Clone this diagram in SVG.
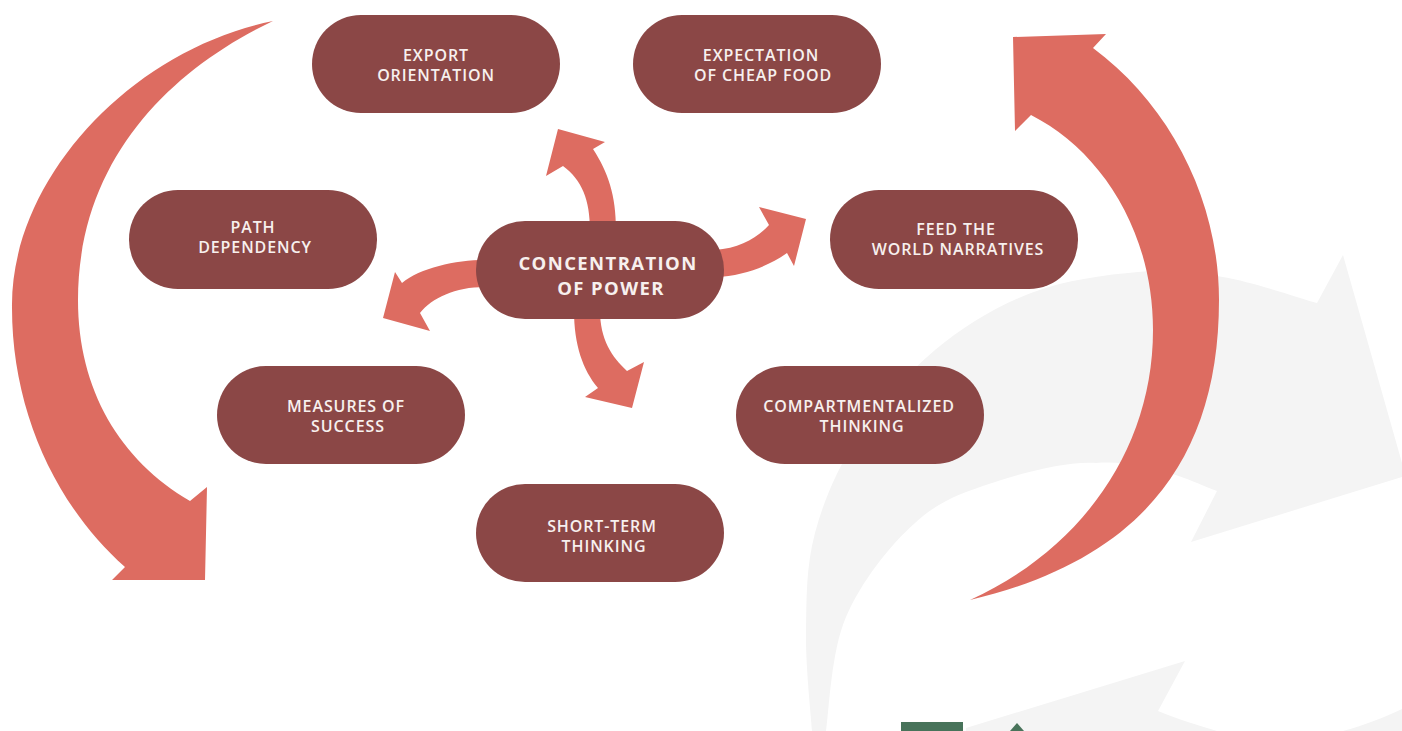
<svg xmlns="http://www.w3.org/2000/svg" width="1402" height="731" viewBox="0 0 1402 731">
<style>
.pill{fill:#8B4746}
.arrow{fill:#DD6C61}
.bg{fill:#F4F4F4}
.green{fill:#48735A}
.t{font-family:"Open Sans","Liberation Sans",sans-serif;font-weight:600;font-size:16px;fill:#F7F0EE;text-anchor:middle;letter-spacing:0.9px}
.tc{font-family:"Open Sans","Liberation Sans",sans-serif;font-weight:700;font-size:18.5px;fill:#F7F0EE;text-anchor:middle;letter-spacing:1.4px}
</style>
<rect width="1402" height="731" fill="#FFFFFF"/>
<g id="background">
<path class="bg" d="M812,731 C811,714.7 805.5,666 806,633 C806.5,600 806,566 815,533 C823.7,500 838,467.5 858,437 C878,406.5 906,374 935,350 C964,326 997,306 1031,293 C1065,280 1106,274.7 1138,272 C1170,269 1193,272 1223,277 C1253,282 1301,298.7 1317,303 L1343,255 L1402,463 L1402,477 L1191,542 L1217,491 C1208,488 1185,476.7 1165,472 C1145,467 1125,461 1096,463 C1067,461 1022,473 992,483 C962,493 939,500.7 915,523 C890,545 861,582 846,617 C831,651 829,712 826,731 Z"/>
<path class="bg" d="M966,731 L966,728 L1185,661 L1158,711 C1180,720 1200,726 1217,731 Z"/>
<path class="bg" d="M1343,731 C1365,725 1385,717 1402,709 L1402,731 Z"/>
<rect class="green" x="901" y="722" width="62" height="9"/>
<path class="green" d="M1017,723 L1024,731 L1010,731 Z"/>
</g>
<g id="connectors">
<path id="loop-left" class="arrow" d="M273,21 C130,50 10,180 12,308 C12,410 55,505 125,567 L112,580 L205,580 L207,487 L190,501 C120,460 78,390 78,300 C78,160 170,70 273,21 Z"/>
<path id="loop-right" class="arrow" d="M970,600 C1080,550 1153,450 1153,330 C1153,230 1100,150 1031,115 L1015,131 L1013,37 L1106,34 L1093,48 C1170,105 1219,200 1219,300 C1219,460 1140,560 970,600 Z"/>
<path id="arrow-up" class="arrow" d="M590,230 C590,200 582,180 563,166 L546,176 L558,129 L605,142 L593,149 C608,172 616,195 616,230 Z"/>
<path id="arrow-right" class="arrow" d="M715,250 C740,248 757,238 769,225 L759,207 L806,219 L794,266 L787,253 C770,265 745,276 715,277 Z"/>
<path id="arrow-left" class="arrow" d="M485,260 C455,260 420,268 402,283 L395,272 L383,318 L430,331 L420,313 C432,298 455,287 485,287 Z"/>
<path id="arrow-down" class="arrow" d="M574,310 C574,345 583,370 598,388 L585,397 L632,408 L644,362 L627,371 C612,357 600,340 600,310 Z"/>
</g>
<g id="node-export">
<rect class="pill" x="312" y="15" width="248" height="98" rx="49"/>
<text class="t" x="436" y="61">EXPORT</text>
<text class="t" x="436" y="81">ORIENTATION</text>
</g>
<g id="node-cheap-food">
<rect class="pill" x="633" y="15" width="248" height="98" rx="49"/>
<text class="t" x="761" y="61">EXPECTATION</text>
<text class="t" x="763" y="81">OF CHEAP FOOD</text>
</g>
<g id="node-path">
<rect class="pill" x="129" y="190" width="248" height="99" rx="49"/>
<text class="t" x="253" y="233">PATH</text>
<text class="t" x="255" y="253">DEPENDENCY</text>
</g>
<g id="node-center">
<rect class="pill" x="476" y="221" width="248" height="98" rx="49"/>
<text class="tc" x="608" y="270">CONCENTRATION</text>
<text class="tc" x="611" y="295">OF POWER</text>
</g>
<g id="node-feed">
<rect class="pill" x="830" y="190" width="248" height="99" rx="49"/>
<text class="t" x="956" y="235">FEED THE</text>
<text class="t" x="958" y="255">WORLD NARRATIVES</text>
</g>
<g id="node-measures">
<rect class="pill" x="217" y="366" width="248" height="98" rx="49"/>
<text class="t" x="346" y="412">MEASURES OF</text>
<text class="t" x="348" y="432">SUCCESS</text>
</g>
<g id="node-compartmentalized">
<rect class="pill" x="736" y="366" width="248" height="98" rx="49"/>
<text class="t" x="859" y="412">COMPARTMENTALIZED</text>
<text class="t" x="862" y="432">THINKING</text>
</g>
<g id="node-short-term">
<rect class="pill" x="476" y="484" width="248" height="98" rx="49"/>
<text class="t" x="602" y="532">SHORT-TERM</text>
<text class="t" x="604" y="552">THINKING</text>
</g>
</svg>
